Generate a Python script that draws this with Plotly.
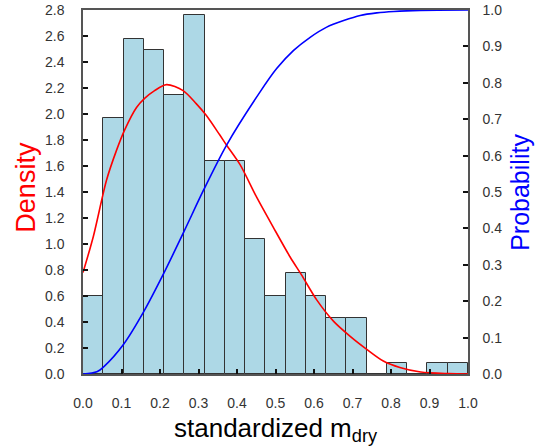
import plotly.graph_objects as go

# Histogram (19 equal bins on [0, 1])
bin_edges = [i / 19 for i in range(20)]
density = [0.60, 1.97, 2.58, 2.49, 2.15, 2.76, 1.64, 1.64, 1.04, 0.60,
           0.78, 0.60, 0.43, 0.43, 0.0, 0.086, 0.0, 0.086, 0.086]

# Fitted density curve (left axis)
pdf_x = [0.0, 0.027, 0.061, 0.087, 0.108, 0.139, 0.160, 0.186, 0.217, 0.260,
         0.294, 0.320, 0.355, 0.373, 0.408, 0.451, 0.494, 0.538, 0.568, 0.607,
         0.651, 0.694, 0.737, 0.780, 0.823, 0.877, 0.95, 1.0]
pdf_y = [0.78, 1.06, 1.49, 1.72, 1.876, 2.05, 2.12, 2.18, 2.226, 2.18,
         2.08, 1.99, 1.84, 1.76, 1.61, 1.36, 1.13, 0.90, 0.76, 0.57,
         0.405, 0.29, 0.19, 0.10, 0.05, 0.015, 0.003, 0.0]

# Cumulative probability curve (right axis)
cdf_x = [0.0, 0.036, 0.055, 0.105, 0.157, 0.209, 0.263, 0.313, 0.373,
         0.46, 0.503, 0.547, 0.590, 0.633, 0.677, 0.72, 0.763, 0.807, 0.876, 1.0]
cdf_y = [0.0, 0.006, 0.021, 0.081, 0.170, 0.275, 0.393, 0.505, 0.629,
         0.775, 0.839, 0.889, 0.925, 0.953, 0.971, 0.985, 0.992, 0.996, 0.999, 1.0]

x_ticks = [round(0.1 * i, 1) for i in range(11)]
y_ticks = [round(0.2 * i, 1) for i in range(15)]
y2_ticks = [round(0.1 * i, 1) for i in range(11)]

centers = [(bin_edges[i] + bin_edges[i + 1]) / 2 for i in range(19)]
width = bin_edges[1] - bin_edges[0]

FONT = "Liberation Sans, Arial, sans-serif"
TICKC = "#333333"
AXC = "#555555"

W, H = 537, 448
L, T = 83, 9.5
PW, PH = 384.7, 365
fig = go.Figure()
fig.add_trace(go.Bar(x=centers, y=density, width=width,
                     marker=dict(color="#ADD8E6", line=dict(color="#333333", width=1)),
                     showlegend=False, hoverinfo="skip"))
fig.add_trace(go.Scatter(x=pdf_x, y=pdf_y, mode="lines",
                         line=dict(color="red", width=1.6, shape="spline", smoothing=0.8),
                         showlegend=False))
fig.add_trace(go.Scatter(x=cdf_x, y=cdf_y, mode="lines", yaxis="y2",
                         line=dict(color="blue", width=1.6, shape="spline", smoothing=0.8),
                         showlegend=False))

fig.update_layout(
    width=W, height=H,
    margin=dict(l=L, r=W - L - PW, t=T, b=H - T - PH, autoexpand=False),
    paper_bgcolor="white", plot_bgcolor="white",
    bargap=0,
    font=dict(family=FONT, color=TICKC, size=14),
    xaxis=dict(range=[0, 1], tickvals=x_ticks, ticktext=[f"{v:.1f}" for v in x_ticks],
               ticks="inside", ticklen=5, tickwidth=1.5, tickcolor="#111",
               showline=True, linecolor=AXC, linewidth=1.5, mirror=True,
               showgrid=False, zeroline=False, ticklabelstandoff=15,
               ticklabeloverflow="allow",
               tickfont=dict(size=14, color=TICKC)),
    yaxis=dict(range=[0, 2.8], tickvals=y_ticks, ticktext=[f"{v:.1f}" for v in y_ticks],
               ticks="inside", ticklen=5, tickwidth=1.5, tickcolor="#111",
               showline=True, linecolor=AXC, linewidth=1.5,
               showgrid=False, zeroline=False, ticklabelstandoff=14,
               ticklabeloverflow="allow",
               tickfont=dict(size=14, color=TICKC)),
    yaxis2=dict(range=[0, 1], overlaying="y", side="right",
                tickvals=y2_ticks, ticktext=[f"{v:.1f}" for v in y2_ticks],
                ticks="inside", ticklen=5, tickwidth=1.5, tickcolor="#111",
                showline=True, linecolor=AXC, linewidth=1.5,
                showgrid=False, zeroline=False, ticklabelstandoff=10,
                ticklabeloverflow="allow",
                tickfont=dict(size=14, color=TICKC)),
    annotations=[
        dict(text="standardized m<sub>dry</sub>", xref="paper", yref="paper",
             x=0.5, y=-0.152, xanchor="center", yanchor="middle", showarrow=False,
             font=dict(size=26, color="black", family=FONT)),
        dict(text="Density", xref="paper", yref="paper", textangle=-90,
             x=-0.148, y=0.512, xanchor="center", yanchor="middle", showarrow=False,
             font=dict(size=27, color="red", family=FONT)),
        dict(text="Probability", xref="paper", yref="paper", textangle=-90,
             x=(519.5 - 83) / PW, y=0.5, xanchor="center", yanchor="middle", showarrow=False,
             font=dict(size=25, color="blue", family=FONT)),
    ],
)

fig.write_html("out.html", config={"displayModeBar": False},
               post_script="document.body.style.margin='0';document.body.style.overflow='hidden';")
